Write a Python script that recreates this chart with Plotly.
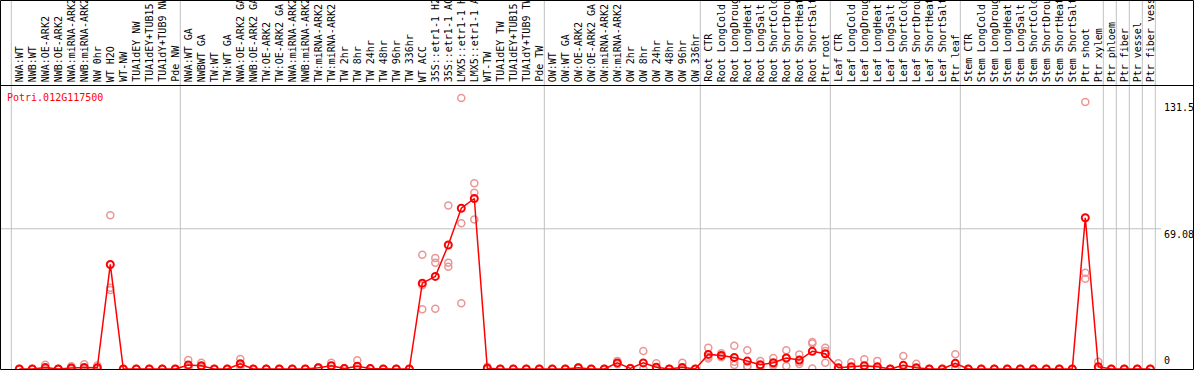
import plotly.graph_objects as go

# ---------------- data ----------------
gene_id = "Potri.012G117500"

labels = [
    "NWA:WT", "NWB:WT", "NWA:OE-ARK2", "NWB:OE-ARK2", "NWA:miRNA-ARK2", "NWB:miRNA-ARK2",
    "NW 0hr", "WT H2O", "WT-NW", "TUA1dEY NW", "TUA1dEY+TUB15 NW", "TUA1dY+TUB9 NW", "Pde NW",
    "NWA:WT GA", "NWBWT GA", "TW:WT", "TW:WT GA", "NWA:OE-ARK2 GA", "NWB:OE-ARK2 GA",
    "TW:OE-ARK2", "TW:OE-ARK2 GA", "NWA:miRNA-ARK2 GA", "NWB:miRNA-ARK2 GA", "TW:miRNA-ARK2",
    "TW:miRNA-ARK2 GA", "TW 2hr", "TW 8hr", "TW 24hr", "TW 48hr", "TW 96hr", "TW 336hr",
    "WT ACC", "35S::etr1-1 H2O", "35S::etr1-1 ACC", "LMX5::etr1-1 H2O", "LMX5::etr1-1 ACC",
    "WT-TW", "TUA1dEY TW", "TUA1dEY+TUB15 TW", "TUA1dY+TUB9 TW", "Pde TW",
    "OW:WT", "OW:WT GA", "OW:OE-ARK2", "OW:OE-ARK2 GA", "OW:miRNA-ARK2", "OW:miRNA-ARK2 GA",
    "OW 2hr", "OW 8hr", "OW 24hr", "OW 48hr", "OW 96hr", "OW 336hr",
    "Root CTR", "Root LongCold", "Root LongDrought", "Root LongHeat", "Root LongSalt",
    "Root ShortCold", "Root ShortDrought", "Root ShortHeat", "Root ShortSalt", "Ptr root",
    "Leaf CTR", "Leaf LongCold", "Leaf LongDrought", "Leaf LongHeat", "Leaf LongSalt",
    "Leaf ShortCold", "Leaf ShortDrought", "Leaf ShortHeat", "Leaf ShortSalt", "Ptr leaf",
    "Stem CTR", "Stem LongCold", "Stem LongDrought", "Stem LongHeat", "Stem LongSalt",
    "Stem ShortCold", "Stem ShortDrought", "Stem ShortHeat", "Stem ShortSalt", "Ptr shoot",
    "Ptr xylem", "Ptr phloem", "Ptr fiber", "Ptr vessel", "Ptr fiber vessel",
]

mean_values = [
    0, 0, 0.7, 0, 0.5, 0.8, 0.6, 51.5, 0, 0,
    0, 0, 0, 2.0, 1.6, 0, 0, 2.6, 0, 0,
    0, 0, 0, 0.6, 1.6, 0.2, 1.4, 0.2, 0, 0,
    0, 42.3, 45.6, 61.1, 79.2, 84.0, 0.4, 0, 0, 0,
    0, 0, 0, 0.6, 0, 0, 3.0, 0.3, 3.0, 0.9,
    0, 0.8, 0, 7.2, 6.7, 5.7, 3.9, 2.1, 3.1, 5.4,
    4.4, 8.7, 7.5, 0.6, 1.1, 1.6, 1.1, 0, 1.8, 0.6,
    0, 0, 2.8, 0, 0, 0, 0, 0, 0, 0,
    0, 0, 74.5, 1.1, 0, 0, 0, 0,
]

rep_1 = [
    0, 0, 2.1, 0, 1.4, 2.3, 1.7, 75.7, 0, 0,
    0, 0, 0, 4.4, 3.1, 0, 0, 4.9, 0, 0,
    0, 0, 0, 0.8, 3.1, 0.4, 4.3, 0.3, 0, 0,
    0, 56.3, 54.7, 80.6, 133.5, 91.5, 1.1, 0, 0, 0,
    0, 0, 0, 0.8, 0, 0, 4.0, 0.5, 8.9, 2.8,
    0, 3.1, 0, 10.5, 7.7, 11.5, 9.2, 3.9, 5.4, 9.2,
    7.2, 13.3, 10.5, 2.8, 3.3, 4.8, 4.0, 0, 6.4, 2.6,
    0, 0, 7.3, 0, 0, 0, 0, 0, 0, 0,
    0, 0, 131.5, 3.6, 0, 0, 0, 0,
]

rep_2 = [
    0, 0, 0, 0, 0, 0, 0, 40.0, 0, 0,
    0, 0, 0, 1.0, 1.0, 0, 0, 2.0, 0, 0,
    0, 0, 0, 0.6, 1.6, 0.2, 0, 0.2, 0, 0,
    0, 41.2, 52.4, 52.4, 71.8, 86.8, 0.1, 0, 0, 0,
    0, 0, 0, 0.6, 0, 0, 2.8, 0.3, 0.1, 0,
    0, 0, 0, 6.0, 6.6, 3.6, 1.5, 1.6, 2.3, 5.4,
    3.5, 12.6, 8.9, 0, 0.2, 0.3, 0, 0, 0, 0,
    0, 0, 1.0, 0, 0, 0, 0, 0, 0, 0,
    0, 0, 47.4, 0, 0, 0, 0, 0,
]

rep_3 = [
    0, 0, 0, 0, 0, 0, 0, 38.9, 0, 0,
    0, 0, 0, 0.6, 0.7, 0, 0, 0.9, 0, 0,
    0, 0, 0, 0.4, 0.1, 0, 0, 0, 0, 0,
    0, 29.4, 29.7, 50.4, 32.4, 73.7, 0, 0, 0, 0,
    0, 0, 0, 0.4, 0, 0, 2.3, 0.1, 0, 0,
    0, 0, 0, 5.2, 5.8, 2.0, 1.0, 0.8, 1.6, 1.5,
    2.5, 0.3, 3.1, 0, 0, 0, 0, 0, 0, 0,
    0, 0, 0.3, 0, 0, 0, 0, 0, 0, 0,
    0, 0, 44.5, 0, 0, 0, 0, 0,
]

group_sizes = [13, 28, 12, 10, 10, 11, 1, 1, 1, 1]
y_ticks = [131.5, 69.08, 0]
grid_value = 69.08

# ---------------- layout constants ----------------
W, H = 1194, 370
TOP, BOTTOM = 85, 369          # pixel rows of plot area top / bottom
PX_PER_UNIT = 2.03
COL0, STEP = 19.3, 13.0         # first column centre, column spacing (px)
PH = BOTTOM - TOP


def py2p(py):
    return (BOTTOM - py) / PH


FONT = "DejaVu Sans Mono"
GREY = "#C0C0C0"
idx = list(range(len(labels)))

fig = go.Figure()

fig.add_trace(go.Scatter(
    x=idx * 3, y=rep_1 + rep_2 + rep_3, mode="markers",
    marker=dict(symbol="circle-open", size=7, color="#EB9696",
                line=dict(width=1.5, color="#EB9696")),
    hoverinfo="skip", showlegend=False,
))
fig.add_trace(go.Scatter(
    x=idx, y=mean_values, mode="lines+markers",
    line=dict(color="#FF0000", width=1.5),
    marker=dict(symbol="circle-open", size=7, color="#FF0000",
                line=dict(width=2, color="#FF0000")),
    hoverinfo="skip", showlegend=False,
))

shapes = []
# group separators
bounds = [-1]
acc = -1
for g in group_sizes:
    acc += g
    bounds.append(acc)
for b in bounds:
    xb = b + 5 / STEP
    shapes.append(dict(type="line", xref="x", yref="paper", x0=xb, x1=xb,
                       y0=py2p(BOTTOM), y1=py2p(0), line=dict(color=GREY, width=1),
                       layer="below"))
# horizontal grid line
shapes.append(dict(type="line", xref="paper", yref="y", x0=0, x1=1161 / W,
                   y0=grid_value, y1=grid_value, line=dict(color=GREY, width=1),
                   layer="below"))
# black line under labels
shapes.append(dict(type="line", xref="paper", yref="paper", x0=0, x1=1,
                   y0=py2p(TOP + 0.5), y1=py2p(TOP + 0.5), line=dict(color="black", width=1)))
# outer border
shapes.append(dict(type="rect", xref="paper", yref="paper", x0=0.5 / W, x1=(W - 0.5) / W,
                   y0=py2p(BOTTOM + 0.5), y1=py2p(0.5), line=dict(color="black", width=1)))

annotations = []
for i, lab in enumerate(labels):
    annotations.append(dict(x=i, y=py2p(83), xref="x", yref="paper", text=lab,
                            textangle=-90, xanchor="center", yanchor="bottom",
                            showarrow=False, borderpad=0,
                            font=dict(family=FONT, size=10, color="black")))
annotations.append(dict(x=6 / W, y=py2p(97), xref="paper", yref="paper", text=gene_id,
                        xanchor="left", yanchor="middle", showarrow=False, borderpad=0,
                        font=dict(family=FONT, size=10, color="#FF0000")))
for v in y_ticks:
    annotations.append(dict(x=1163 / W, y=v, xref="paper", yref="y", text=f"{v:g}",
                            xanchor="left", yanchor="top" if v > 0 else "bottom",
                            yshift=1 if v > 0 else 2,
                            showarrow=False, borderpad=0,
                            font=dict(family=FONT, size=10, color="black")))

fig.update_layout(
    width=W, height=H,
    margin=dict(l=0, r=0, t=TOP, b=H - BOTTOM, pad=0),
    paper_bgcolor="white", plot_bgcolor="white",
    xaxis=dict(range=[-COL0 / STEP, (W - COL0) / STEP], showgrid=False, zeroline=False,
               showticklabels=False, showline=False, fixedrange=True),
    yaxis=dict(range=[0, PH / PX_PER_UNIT], showgrid=False, zeroline=False,
               showticklabels=False, showline=False, fixedrange=True),
    shapes=shapes, annotations=annotations,
)

fig.write_html(
    "out.html",
    config={"displayModeBar": False},
    post_script="document.body.style.margin='0';document.body.style.padding='0';",
)
